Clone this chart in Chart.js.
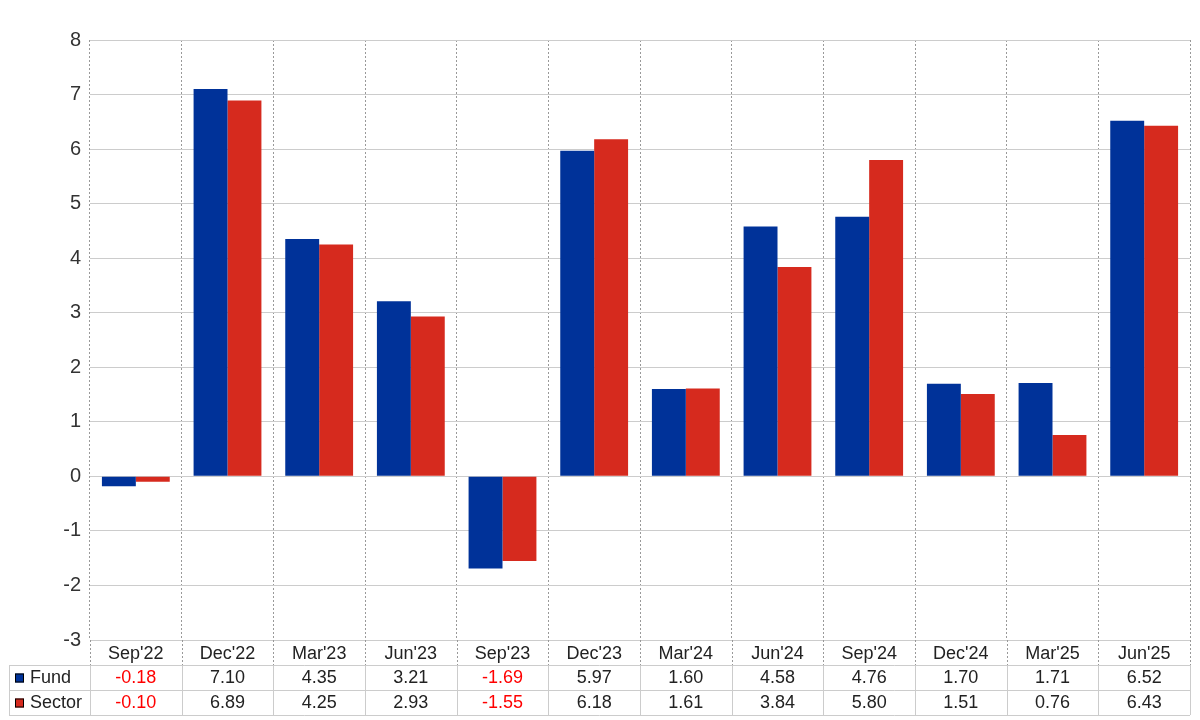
<!DOCTYPE html>
<html>
<head>
<meta charset="utf-8">
<script src="https://cdn.jsdelivr.net/npm/chart.js@4/dist/chart.umd.min.js"></script>
<style>
  html, body { margin: 0; padding: 0; background: #fff; }
  #wrap { width: 1200px; height: 720px; }
</style>
</head>
<body>
<div id="wrap"><canvas id="chart" width="1200" height="720"></canvas></div>
<script>
// Dados
const categorias = ["Sep'22", "Dec'22", "Mar'23", "Jun'23", "Sep'23", "Dec'23",
                    "Mar'24", "Jun'24", "Sep'24", "Dec'24", "Mar'25", "Jun'25"];
const fund   = [-0.18, 7.10, 4.35, 3.21, -1.69, 5.97, 1.60, 4.58, 4.76, 1.70, 1.71, 6.52];
const sector = [-0.10, 6.89, 4.25, 2.93, -1.55, 6.18, 1.61, 3.84, 5.80, 1.51, 0.76, 6.43];
const yTicks = [-3, -2, -1, 0, 1, 2, 3, 4, 5, 6, 7, 8];

const AZUL = "#003299";
const VERMELHO = "#d62a1e";
const FONTE = "Arial, 'Liberation Sans', sans-serif";
const TRACEJADO = [2, 2];

const LABEL_ROW = 25;   // linha das categorias
const ROW_H = 25;       // linhas da tabela
const TABLE_LEFT = 9;

// Tabela de dados por baixo do gráfico
const tabelaPlugin = {
    id: "tabela",
    afterDraw(chart) {
        const { ctx, chartArea, scales } = chart;
        const x = scales.x;
        const n = categorias.length;
        const step = (chartArea.right - chartArea.left) / n;
        const top = chartArea.bottom + LABEL_ROW;
        const rows = [
            { nome: "Fund", cor: AZUL, dados: fund },
            { nome: "Sector", cor: VERMELHO, dados: sector }
        ];

        ctx.save();

        // prolongar as linhas pontilhadas pela linha das categorias
        ctx.strokeStyle = "#999";
        ctx.lineWidth = 1;
        ctx.setLineDash(TRACEJADO);
        for (let i = 0; i <= n; i++) {
            const px = Math.round(chartArea.left + i * step) + 0.5;
            ctx.beginPath();
            ctx.moveTo(px, chartArea.bottom);
            ctx.lineTo(px, top);
            ctx.stroke();
        }
        ctx.setLineDash([]);

        // grelha da tabela
        ctx.strokeStyle = "#cccccc";
        for (let r = 0; r <= rows.length; r++) {
            const py = top + r * ROW_H + 0.5;
            ctx.beginPath();
            ctx.moveTo(TABLE_LEFT, py);
            ctx.lineTo(chartArea.right, py);
            ctx.stroke();
        }
        const bottom = top + rows.length * ROW_H;
        const verticais = [TABLE_LEFT];
        for (let i = 0; i <= n; i++) verticais.push(Math.round(chartArea.left + i * step));
        verticais.forEach(vx => {
            ctx.beginPath();
            ctx.moveTo(vx + 0.5, top);
            ctx.lineTo(vx + 0.5, bottom);
            ctx.stroke();
        });

        // conteúdo
        ctx.font = "18px " + FONTE;
        ctx.textBaseline = "middle";
        rows.forEach((row, r) => {
            const cy = top + r * ROW_H + ROW_H / 2 + 1;
            ctx.fillStyle = row.cor;
            ctx.fillRect(15, cy - 5, 9, 9);
            ctx.strokeStyle = "#000";
            ctx.strokeRect(15.5, cy - 4.5, 8, 8);
            ctx.fillStyle = "#222";
            ctx.textAlign = "left";
            ctx.fillText(row.nome, 30, cy);
            ctx.textAlign = "center";
            row.dados.forEach((v, i) => {
                ctx.fillStyle = v < 0 ? "#ff0000" : "#222";
                ctx.fillText(v.toFixed(2), x.getPixelForValue(i), cy);
            });
        });

        ctx.restore();
    }
};

new Chart(document.getElementById("chart"), {
    type: "bar",
    data: {
        labels: categorias,
        datasets: [
            { label: "Fund", data: fund, backgroundColor: AZUL },
            { label: "Sector", data: sector, backgroundColor: VERMELHO }
        ]
    },
    options: {
        responsive: false,
        animation: false,
        layout: { padding: { top: 40, right: 10, bottom: 2 * ROW_H + 5, left: 0 } },
        datasets: { bar: { barPercentage: 1, categoryPercentage: 0.74 } },
        plugins: { legend: { display: false }, tooltip: { enabled: false } },
        scales: {
            x: {
                offset: true,
                grid: { offset: true, color: "#999", drawTicks: false },
                border: { display: false, dash: TRACEJADO },
                ticks: { color: "#222", font: { family: FONTE, size: 18 }, padding: 3, maxRotation: 0 },
                afterFit(scale) { scale.height = LABEL_ROW; }
            },
            y: {
                min: -3,
                max: 8,
                afterBuildTicks(scale) { scale.ticks = yTicks.map(v => ({ value: v })); },
                grid: { color: "#cccccc", drawTicks: false },
                border: { display: false },
                ticks: { color: "#333", font: { family: FONTE, size: 20 }, padding: 9 },
                afterFit(scale) { scale.width = 90; }
            }
        }
    },
    plugins: [tabelaPlugin]
});
</script>
</body>
</html>
